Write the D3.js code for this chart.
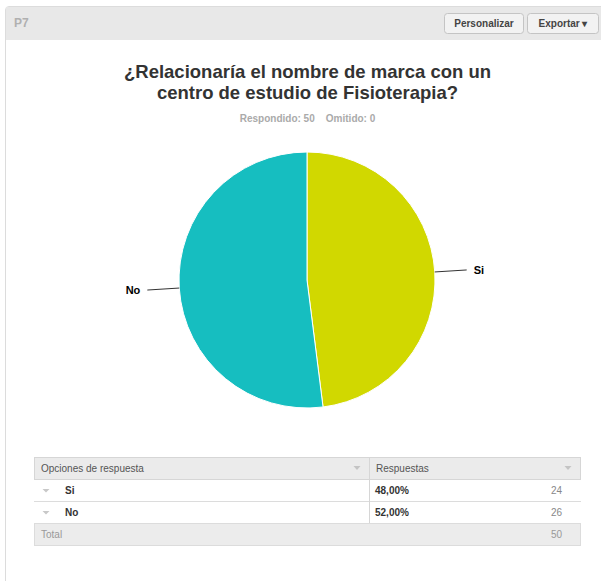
<!DOCTYPE html>
<html>
<head>
<meta charset="utf-8">
<script src="https://cdn.jsdelivr.net/npm/d3@7"></script>
<style>
  body { margin: 0; background: #fff; }
  svg { display: block; font-family: "Liberation Sans", Arial, Helvetica, sans-serif; }
</style>
</head>
<body>
<div id="chart"></div>
<script>
// Data
const categories = ["Si", "No"];
const counts = [24, 26];
const percents = ["48,00%", "52,00%"];
const colors = ["#d1d800", "#16bec0"];
const titleLines = ["¿Relacionaría el nombre de marca con un", "centro de estudio de Fisioterapia?"];
const total = 50;

const width = 601, height = 581;

const svg = d3.select("#chart")
    .append("svg")
    .attr("width", width)
    .attr("height", height);

// Panel frame
svg.append("path")
    .attr("d", "M5.5,581 L5.5,10 Q5.5,6.5 9,6.5 L601,6.5")
    .attr("fill", "none")
    .attr("stroke", "#dcdcdc");
svg.append("rect")
    .attr("x", 6).attr("y", 7)
    .attr("width", width - 6).attr("height", 33)
    .attr("fill", "#e8e8e8");
svg.append("text")
    .attr("x", 14).attr("y", 27)
    .attr("font-size", 12)
    .attr("font-weight", "bold")
    .attr("fill", "#b0b0b0")
    .text("P7");

// Header buttons
const buttons = [
    {label: "Personalizar", x: 444, w: 79},
    {label: "Exportar ▾", x: 527, w: 71}
];
const btn = svg.selectAll("g.btn")
    .data(buttons)
    .enter()
    .append("g")
    .attr("class", "btn");
btn.append("rect")
    .attr("x", d => d.x + 0.5).attr("y", 13.5)
    .attr("width", d => d.w).attr("height", 20)
    .attr("rx", 3)
    .attr("fill", "#f2f2f2")
    .attr("stroke", "#c4c4c4");
btn.append("text")
    .attr("x", d => d.x + d.w / 2 + 0.5).attr("y", 27)
    .attr("text-anchor", "middle")
    .attr("font-size", 10)
    .attr("font-weight", "bold")
    .attr("fill", "#444")
    .text(d => d.label);

// Title
svg.append("g")
    .selectAll("text")
    .data(titleLines)
    .enter()
    .append("text")
    .attr("x", 307.5)
    .attr("y", (d, i) => 78 + i * 21)
    .attr("text-anchor", "middle")
    .attr("font-size", 18.5)
    .attr("font-weight", "bold")
    .attr("fill", "#333")
    .text(d => d);

svg.append("text")
    .attr("x", 307.5).attr("y", 122)
    .attr("text-anchor", "middle")
    .attr("font-size", 10)
    .attr("font-weight", "bold")
    .attr("fill", "#aaa")
    .attr("xml:space", "preserve")
    .text("Respondido: " + total + "    Omitido: 0");

// Pie
const cx = 307, cy = 280, radius = 128;
const pie = d3.pie().sort(null).value(d => d.count);
const arc = d3.arc().innerRadius(0).outerRadius(radius);
const slices = pie(categories.map((c, i) => ({name: c, count: counts[i], color: colors[i]})));

const g = svg.append("g").attr("transform", "translate(" + cx + "," + cy + ")");
g.selectAll("path")
    .data(slices)
    .enter()
    .append("path")
    .attr("d", arc)
    .attr("fill", d => d.data.color)
    .attr("stroke", "#fff")
    .attr("stroke-width", 1);

const mid = d => (d.startAngle + d.endAngle) / 2;
const polar = (a, r) => [Math.sin(a) * r, -Math.cos(a) * r];

g.selectAll("line.conn")
    .data(slices)
    .enter()
    .append("line")
    .attr("class", "conn")
    .attr("x1", d => polar(mid(d), radius)[0])
    .attr("y1", d => polar(mid(d), radius)[1])
    .attr("x2", d => polar(mid(d), radius + 32)[0])
    .attr("y2", d => polar(mid(d), radius + 32)[1])
    .attr("stroke", "#333")
    .attr("stroke-width", 1);

g.selectAll("text.lbl")
    .data(slices)
    .enter()
    .append("text")
    .attr("class", "lbl")
    .attr("x", d => polar(mid(d), radius + 39)[0])
    .attr("y", d => polar(mid(d), radius + 32)[1] + 4)
    .attr("text-anchor", d => mid(d) < Math.PI ? "start" : "end")
    .attr("font-size", 11)
    .attr("font-weight", "bold")
    .attr("fill", "#000")
    .text(d => d.data.name);

// Table
const tx0 = 34, tx1 = 581, tdiv = 369, rowH = 22, ty0 = 457;
const table = svg.append("g");

function tri(x, y, c) {
    table.append("path")
        .attr("d", "M" + (x - 3.5) + "," + (y - 2) + " L" + (x + 3.5) + "," + (y - 2) + " L" + x + "," + (y + 2) + "Z")
        .attr("fill", c);
}

// header row
table.append("rect")
    .attr("x", tx0 + 0.5).attr("y", ty0 + 0.5)
    .attr("width", tx1 - tx0 - 1).attr("height", rowH)
    .attr("fill", "#ebebeb")
    .attr("stroke", "#d6d6d6");
table.append("text")
    .attr("x", 41).attr("y", ty0 + 15)
    .attr("font-size", 10).attr("fill", "#555")
    .text("Opciones de respuesta");
table.append("text")
    .attr("x", 376).attr("y", ty0 + 15)
    .attr("font-size", 10).attr("fill", "#555")
    .text("Respuestas");
tri(357, ty0 + 11, "#c4c4c4");
tri(568, ty0 + 11, "#c4c4c4");

// data rows
const rows = table.selectAll("g.row")
    .data(categories)
    .enter()
    .append("g")
    .attr("class", "row")
    .attr("transform", (d, i) => "translate(0," + (ty0 + rowH * (i + 1)) + ")");
rows.append("line")
    .attr("x1", tx0).attr("x2", tx1)
    .attr("y1", rowH + 0.5).attr("y2", rowH + 0.5)
    .attr("stroke", "#dcdcdc");
rows.append("path")
    .attr("d", "M42.5,10 L49.5,10 L46,13.5Z")
    .attr("fill", "#c8c8c8");
rows.append("text")
    .attr("x", 65).attr("y", 15)
    .attr("font-size", 10).attr("font-weight", "bold").attr("fill", "#333")
    .text(d => d);
rows.append("text")
    .attr("x", 375).attr("y", 15)
    .attr("font-size", 10).attr("font-weight", "bold").attr("fill", "#333")
    .text((d, i) => percents[i]);
rows.append("text")
    .attr("x", 562).attr("y", 15)
    .attr("text-anchor", "end")
    .attr("font-size", 10).attr("fill", "#888")
    .text((d, i) => counts[i]);

// column divider
table.append("line")
    .attr("x1", tdiv + 0.5).attr("x2", tdiv + 0.5)
    .attr("y1", ty0).attr("y2", ty0 + rowH * 3)
    .attr("stroke", "#d6d6d6");

// total row
const ty3 = ty0 + rowH * 3;
table.append("rect")
    .attr("x", tx0 + 0.5).attr("y", ty3 + 0.5)
    .attr("width", tx1 - tx0 - 1).attr("height", rowH)
    .attr("fill", "#ececec")
    .attr("stroke", "#dcdcdc");
table.append("text")
    .attr("x", 41).attr("y", ty3 + 15)
    .attr("font-size", 10).attr("fill", "#999")
    .text("Total");
table.append("text")
    .attr("x", 562).attr("y", ty3 + 15)
    .attr("text-anchor", "end")
    .attr("font-size", 10).attr("fill", "#999")
    .text(total);
</script>
</body>
</html>
